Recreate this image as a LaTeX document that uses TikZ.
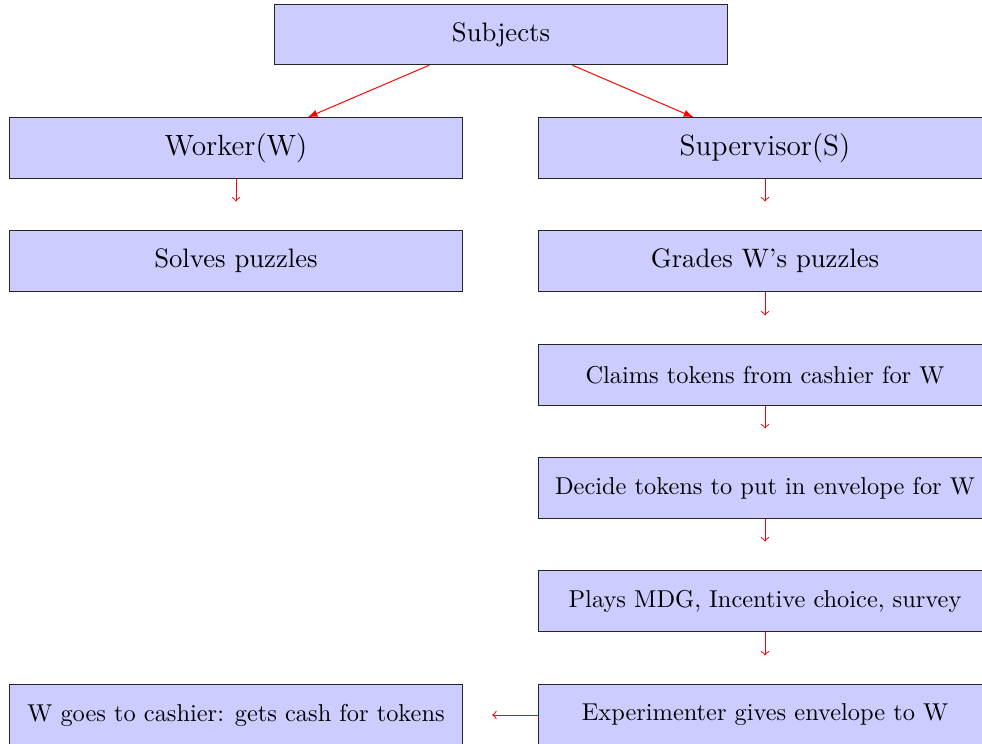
\documentclass[tikz,border=0pt]{standalone}
\usetikzlibrary{arrows}
\begin{document}
\begin{tikzpicture}[x=0.41pt,y=-0.41pt,
  box/.style={draw=black!85,fill=blue!20,line width=0.4pt,minimum width=186.1pt,minimum height=24.8pt,inner sep=0pt},
  fmid/.style={font=\fontsize{10.95}{13}\selectfont},
  fbig/.style={font=\fontsize{12}{14}\selectfont},
  fsml/.style={font=\fontsize{10}{12}\selectfont},
  diag/.style={red,-latex,line width=0.4pt},
  vstep/.style={red,->,line width=0.4pt,shorten >=11.8pt}]
\useasboundingbox (0,0) rectangle (982,744);
\node[box,fmid] (subj) at (501,34.5) {Subjects};
\node[box,fbig] (work) at (236,148) {Worker(W)};
\node[box,fbig] (sup) at (765,148) {Supervisor(S)};
\node[box,fmid] (solve) at (236,261) {Solves puzzles};
\node[box,fmid] (grade) at (765,261) {Grades W's puzzles};
\node[box,fsml] (claim) at (765,375) {Claims tokens from cashier for W};
\node[box,fsml] (decide) at (765,488) {Decide tokens to put in envelope for W};
\node[box,fsml] (plays) at (765,601) {Plays MDG, Incentive choice, survey};
\node[box,fsml] (exper) at (765,715) {Experimenter gives envelope to W};
\node[box,fsml] (cash) at (236,715) {W goes to cashier: gets cash for tokens};
\draw[diag] (subj) -- (work);
\draw[diag] (subj) -- (sup);
\draw[vstep] (work.south) -- (solve.north);
\draw[vstep] (sup.south) -- (grade.north);
\draw[vstep] (grade.south) -- (claim.north);
\draw[vstep] (claim.south) -- (decide.north);
\draw[vstep] (decide.south) -- (plays.north);
\draw[vstep] (plays.south) -- (exper.north);
\draw[vstep] (exper.west) -- (cash.east);
\end{tikzpicture}
\end{document}
